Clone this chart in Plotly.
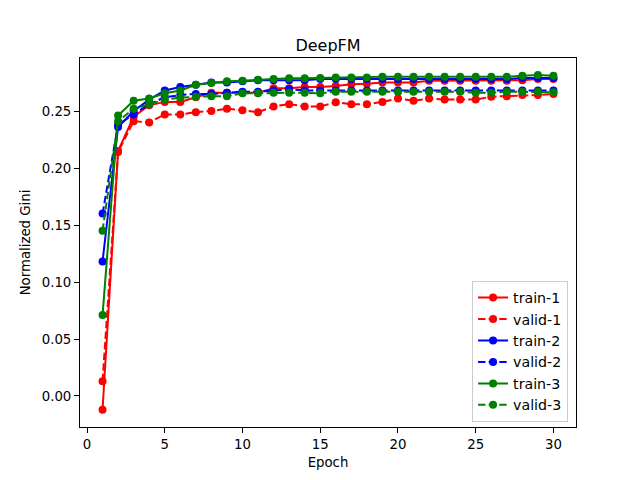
import plotly.graph_objects as go

epochs = list(range(1, 31))

train_1 = [-0.012, 0.215, 0.245, 0.255, 0.258, 0.258, 0.262, 0.266, 0.266, 0.266,
           0.266, 0.270, 0.270, 0.271, 0.271, 0.272, 0.2735, 0.274, 0.275, 0.275,
           0.275, 0.2765, 0.2765, 0.2765, 0.2765, 0.2765, 0.2765, 0.277, 0.278, 0.278]
valid_1 = [0.013, 0.214, 0.241, 0.240, 0.247, 0.247, 0.249, 0.250, 0.252, 0.2506,
           0.249, 0.254, 0.256, 0.254, 0.254, 0.2576, 0.256, 0.256, 0.258, 0.261,
           0.259, 0.261, 0.260, 0.260, 0.260, 0.2626, 0.263, 0.264, 0.264, 0.265]
train_2 = [0.118, 0.236, 0.250, 0.260, 0.268, 0.271, 0.273, 0.275, 0.275, 0.276,
           0.277, 0.277, 0.277, 0.277, 0.278, 0.278, 0.278, 0.278, 0.278, 0.278,
           0.278, 0.278, 0.278, 0.278, 0.278, 0.278, 0.278, 0.279, 0.279, 0.279]
valid_2 = [0.160, 0.238, 0.247, 0.256, 0.262, 0.264, 0.265, 0.265, 0.266, 0.267,
           0.267, 0.268, 0.269, 0.268, 0.268, 0.268, 0.268, 0.268, 0.268, 0.268,
           0.268, 0.268, 0.268, 0.268, 0.268, 0.268, 0.268, 0.268, 0.268, 0.268]
train_3 = [0.071, 0.246, 0.259, 0.261, 0.2655, 0.268, 0.273, 0.2745, 0.276, 0.2766,
           0.2775, 0.278, 0.2787, 0.2787, 0.279, 0.2795, 0.2795, 0.2795, 0.280, 0.280,
           0.280, 0.280, 0.280, 0.280, 0.280, 0.280, 0.280, 0.281, 0.2815, 0.281]
valid_3 = [0.145, 0.241, 0.252, 0.256, 0.260, 0.2617, 0.2626, 0.263, 0.263, 0.2655,
           0.2655, 0.266, 0.266, 0.266, 0.2655, 0.267, 0.267, 0.267, 0.267, 0.267,
           0.267, 0.267, 0.267, 0.267, 0.266, 0.266, 0.267, 0.267, 0.267, 0.2665]

series = [
    ("train-1", train_1, "red", "solid"),
    ("valid-1", valid_1, "red", "7.4px,3.2px"),
    ("train-2", train_2, "blue", "solid"),
    ("valid-2", valid_2, "blue", "7.4px,3.2px"),
    ("train-3", train_3, "green", "solid"),
    ("valid-3", valid_3, "green", "7.4px,3.2px"),
]

x_ticks = [0, 5, 10, 15, 20, 25, 30]
y_ticks = [0.00, 0.05, 0.10, 0.15, 0.20, 0.25]

fig = go.Figure()
for name, vals, color, dash in series:
    fig.add_trace(go.Scatter(
        x=epochs, y=vals, name=name, mode="lines+markers",
        line=dict(color=color, width=2, dash=dash),
        marker=dict(color=color, size=8),
    ))

font = "DejaVu Sans, sans-serif"
# the page body has an 8px default margin, so the figure is 8px smaller
fig.update_layout(
    width=632, height=472,
    margin=dict(l=72, r=64, t=50, b=53, autoexpand=False),
    paper_bgcolor="white", plot_bgcolor="white",
    font=dict(family=font, size=13.3, color="black"),
    title=dict(text="DeepFM", x=0.5, xref="paper", xanchor="center",
               y=1, yref="paper", yanchor="bottom", pad=dict(b=7),
               font=dict(size=16, family=font, color="black")),
    showlegend=True,
    legend=dict(x=0.984, y=0.014, xanchor="right", yanchor="bottom",
                bgcolor="rgba(255,255,255,0.8)", bordercolor="#cccccc", borderwidth=1,
                font=dict(size=14.2, family=font), tracegroupgap=0, itemwidth=30),
)
fig.update_xaxes(
    range=[-0.45, 31.45], tickvals=x_ticks, ticktext=[str(v) for v in x_ticks],
    showline=True, linecolor="black", linewidth=1, mirror=True, automargin=False,
    ticks="outside", ticklen=5, tickcolor="black", showgrid=False, zeroline=False,
    title=dict(text="Epoch", standoff=6, font=dict(size=13.3, family=font)),
)
fig.update_yaxes(
    range=[-0.0272, 0.2965], tickvals=y_ticks, ticktext=[f"{v:.2f}" for v in y_ticks],
    showline=True, linecolor="black", linewidth=1, mirror=True, automargin=False,
    ticks="outside", ticklen=5, tickcolor="black", showgrid=False, zeroline=False,
    title=dict(text="Normalized Gini", standoff=8, font=dict(size=13.3, family=font)),
)

fig.write_html("out.html")
